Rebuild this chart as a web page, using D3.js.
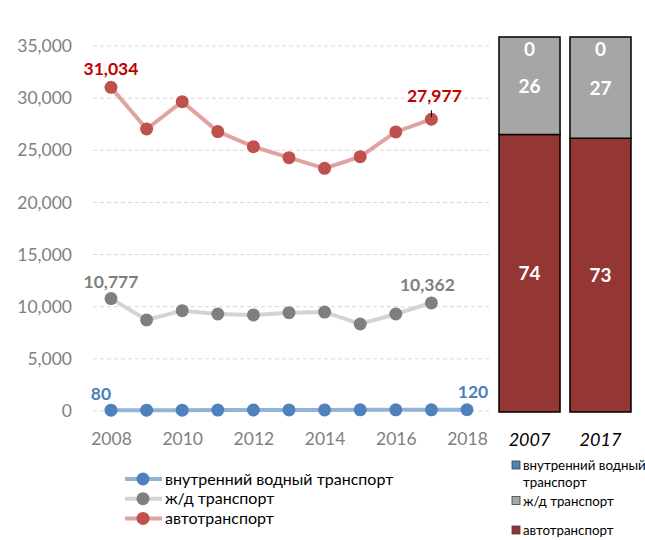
<!DOCTYPE html>
<html><head><meta charset="utf-8">
<script src="https://cdn.jsdelivr.net/npm/d3@7"></script>
<style>body{margin:0;background:#fff}svg{display:block;font-family:Lato,"Open Sans",sans-serif}</style>
</head><body><svg id="c" width="645" height="540"></svg>
<script>
const years = [2008,2009,2010,2011,2012,2013,2014,2015,2016,2017,2018];
const waterVals = [80,75,80,85,95,100,105,110,110,115,120];
const railVals = [10777,8730,9620,9300,9210,9430,9490,8340,9300,10362];
const roadVals = [31034,27040,29660,26790,25350,24290,23270,24390,26760,27977];
const yTicks = [0,5000,10000,15000,20000,25000,30000,35000];
const xTicks = [2008,2010,2012,2014,2016,2018];
const seriesNames = ["внутренний водный транспорт","ж/д транспорт","автотранспорт"];
const barYears = ["2007","2017"];
const barWater = [0,0];
const barRail = [26,27];
const barRoad = [74,73];

const svg = d3.select("#c");
const x = d3.scaleLinear().domain([2008,2018]).range([111,467]);
const y = d3.scaleLinear().domain([0,35000]).range([411,46]);

// grid
svg.append("g").selectAll("line").data(yTicks).join("line")
  .attr("x1",93).attr("x2",490).attr("y1",d=>y(d)).attr("y2",d=>y(d))
  .attr("stroke","#d9d9d9").attr("stroke-dasharray","4,3").attr("stroke-width",1);

// axes
const yAxis = svg.append("g").attr("transform","translate(80,0)")
  .call(d3.axisLeft(y).tickValues(yTicks).tickSize(0).tickPadding(8).tickFormat(d3.format(",")));
yAxis.select(".domain").remove();
yAxis.selectAll("text").attr("fill","#7f7f7f").attr("font-size",17.5).attr("font-family","Lato,sans-serif");
const xAxis = svg.append("g").attr("transform","translate(0,427)")
  .call(d3.axisBottom(x).tickValues(xTicks).tickSize(0).tickPadding(6).tickFormat(d3.format("d")));
xAxis.select(".domain").remove();
xAxis.selectAll("text").attr("fill","#7f7f7f").attr("font-size",17.5).attr("font-family","Lato,sans-serif");

const series = [
  {vals:waterVals, line:"#95b3d7", mark:"#4f81bd"},
  {vals:railVals, line:"#d3d3d3", mark:"#7f7f7f"},
  {vals:roadVals, line:"#e0a3a2", mark:"#c0504d"}
];
const lineGen = d3.line().x((d,i)=>x(years[i])).y(d=>y(d));
series.forEach(s=>{
  svg.append("path").attr("d",lineGen(s.vals)).attr("fill","none")
    .attr("stroke",s.line).attr("stroke-width",4);
  svg.append("g").selectAll("circle").data(s.vals).join("circle")
    .attr("cx",(d,i)=>x(years[i])).attr("cy",d=>y(d)).attr("r",6.5).attr("fill",s.mark);
});

// data labels
const lbl = (txt,cx,cy,col)=>svg.append("text").attr("x",cx).attr("y",cy).attr("text-anchor","middle")
  .attr("font-weight","bold").attr("font-size",17.5).attr("fill",col).text(txt);
const f = d3.format(",");
lbl(f(roadVals[0]), x(2008), y(roadVals[0])-12, "#c00000");
lbl(f(roadVals[9]), x(2017)+3, y(roadVals[9])-17, "#c00000");
svg.append("line").attr("x1",x(2017)).attr("x2",x(2017)).attr("y1",y(roadVals[9])-9).attr("y2",y(roadVals[9])-2)
  .attr("stroke","#000").attr("stroke-width",1);
lbl(f(railVals[0]), x(2008), y(railVals[0])-11, "#7f7f7f");
lbl(f(railVals[9]), x(2017)-4, y(railVals[9])-12, "#7f7f7f");
lbl(f(waterVals[0]), x(2008)-10, y(waterVals[0])-10, "#4a7ebb");
lbl(f(waterVals[10]), x(2018)+6, y(waterVals[10])-12, "#4a7ebb");

// legend left
seriesNames.forEach((n,i)=>{
  const yy = 479 + i*19.7;
  svg.append("line").attr("x1",125).attr("x2",162).attr("y1",yy).attr("y2",yy)
    .attr("stroke",series[i].line).attr("stroke-width",4);
  svg.append("circle").attr("cx",143).attr("cy",yy).attr("r",6.5).attr("fill",series[i].mark);
  svg.append("text").attr("x",165).attr("y",yy+5.5).attr("font-size",16).attr("fill","#000").text(n);
});

// stacked bars
const bx = d3.scaleBand().domain(barYears).range([499,631]).paddingInner(0.14);
const by = d3.scaleLinear().domain([0,100]).range([412,37]);
barYears.forEach((yr,i)=>{
  const road = barRoad[i], rail = barRail[i], water = barWater[i];
  const segs = [
    {v0:0, v1:road, col:"#943634", t:road},
    {v0:road, v1:road+rail, col:"#a6a6a6", t:rail},
    {v0:road+rail, v1:road+rail+water, col:"#4f81bd", t:water}
  ];
  segs.forEach((s,k)=>{
    svg.append("rect").attr("x",bx(yr)).attr("width",bx.bandwidth())
      .attr("y",by(s.v1)).attr("height",by(s.v0)-by(s.v1))
      .attr("fill",s.col).attr("stroke","#000").attr("stroke-width",1.5);
    const cy = k===2 ? by(s.v1)+19 : (by(s.v0)+by(s.v1))/2+7;
    svg.append("text").attr("x",bx(yr)+bx.bandwidth()/2).attr("y",cy).attr("text-anchor","middle")
      .attr("font-weight","bold").attr("font-size",19).attr("fill","#fff").text(s.t);
  });
  svg.append("text").attr("x",bx(yr)+bx.bandwidth()/2).attr("y",446).attr("text-anchor","middle")
    .attr("font-style","italic").attr("font-size",18).attr("fill","#000").text(yr);
});

// legend right
const rl = [
  {col:"#4f81bd", lines:["внутренний водный","транспорт"], y:470},
  {col:"#a6a6a6", lines:["ж/д транспорт"], y:505.5},
  {col:"#943634", lines:["автотранспорт"], y:535}
];
rl.forEach(r=>{
  svg.append("rect").attr("x",512).attr("y",r.y-9).attr("width",8).attr("height",8)
    .attr("fill",r.col).attr("stroke","#404040").attr("stroke-width",0.8);
  r.lines.forEach((t,j)=>svg.append("text").attr("x",523).attr("y",r.y+j*17).attr("font-size",13.3)
    .attr("fill","#000").text(t));
});
</script></body></html>
